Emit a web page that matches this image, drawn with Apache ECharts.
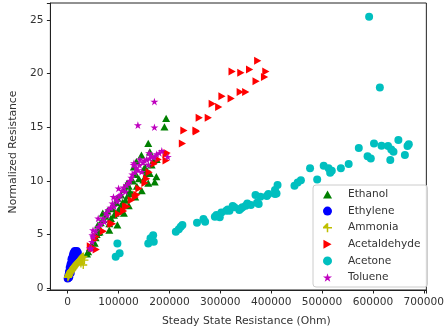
<!DOCTYPE html>
<html>
<head>
<meta charset="utf-8">
<script src="https://cdn.jsdelivr.net/npm/echarts@6/dist/echarts.min.js"></script>
<style>html,body{margin:0;padding:0;background:#fff}#c{width:447px;height:335px}</style>
</head>
<body>
<div id="c"></div>
<script>
// ---- data (Steady State Resistance [Ohm], Normalized Resistance) ----
const seriesNames = ["Ethanol", "Ethylene", "Ammonia", "Acetaldehyde", "Acetone", "Toluene"];
const xTicks = [0, 100000, 200000, 300000, 400000, 500000, 600000, 700000];
const yTicks = [0, 5, 10, 15, 20, 25];

const ethanol = [
  [38000,3.2],[40200,3.4],[44000,3.8],[47000,4.0],[50000,4.3],[53100,4.2],[55000,4.7],[57000,5.0],
  [59400,5.9],[60000,5.2],[62600,5.25],[62600,5.6],[65000,6.1],[69000,7.0],[70000,6.4],[74000,6.7],
  [78000,7.2],[81800,5.4],[81800,6.0],[85000,6.5],[88000,7.4],[91000,6.8],[94400,7.0],[95000,8.0],
  [97700,5.9],[97700,8.4],[100000,7.3],[104000,7.6],[105000,8.7],[108000,8.0],[110500,7.0],[112000,9.2],
  [113600,8.2],[116900,9.8],[118000,8.6],[120100,7.7],[122000,9.0],[126400,8.8],[128000,10.0],[130000,11.3],
  [132800,8.5],[134000,10.6],[136000,9.5],[140000,10.2],[145600,9.1],[148800,10.1],[150000,11.0],[151900,11.3],
  [155200,10.7],[158400,9.8],[158400,13.5],[161500,10.7],[161500,12.7],[165000,11.5],[171100,9.9],[174300,10.4],
  [168000,11.9],[175000,12.0],[190200,15.05],[193500,15.83],[120000,9.5],[135000,11.8],[145000,12.4]
];
const ethylene = [
  [0,0.9],[1000,0.95],[2000,1.05],[1500,1.2],[3000,1.3],[2500,1.5],[4000,1.6],[5000,1.75],[4000,1.9],
  [6000,2.0],[5500,2.2],[7000,2.3],[8000,2.5],[7500,2.7],[9000,2.8],[10000,3.0],[11000,3.2],[12500,3.35],
  [14000,3.45],[16000,3.4],[18000,3.45],[20000,3.3],[17000,3.1],[13000,2.95],[3000,1.0],[6000,1.4],
  [9000,1.9],[12000,2.2]
];
const ammonia = [
  [500,1.0],[1500,1.1],[2500,1.2],[3500,1.3],[4500,1.4],[5500,1.5],[6500,1.55],[7500,1.6],[9000,1.7],
  [10500,1.8],[12000,1.9],[13500,2.0],[15000,2.1],[17000,2.2],[19000,2.3],[21000,2.4],[23000,2.5],
  [25000,2.6],[27000,2.75],[29000,2.85],[31000,2.95],[30600,2.15],[33000,2.6],[26000,2.3]
];
const acetaldehyde = [
  [44600,3.9],[49800,3.7],[53100,4.5],[56100,3.6],[56100,4.8],[70000,5.3],[84900,6.0],[88100,6.0],
  [100000,6.9],[110000,7.2],[113600,7.6],[116900,7.6],[125000,8.2],[132800,8.5],[136000,8.7],[140000,9.3],
  [151900,9.8],[155200,10.2],[160000,10.8],[170000,11.6],[178000,12.0],[193500,11.9],[195400,12.6],[193500,12.5],
  [225500,13.5],[228500,14.7],[252300,14.7],[252900,14.6],[258600,15.9],[276400,15.9],[284100,17.2],
  [296900,16.9],[303300,17.9],[321300,17.7],[339100,18.3],[350000,18.3],[323200,20.2],[340400,20.1],
  [357600,20.4],[370300,19.3],[373500,21.2],[387000,19.7],[389500,20.2]
];
const acetone = [
  [97700,4.17],[94400,2.92],[102100,3.24],[158400,4.17],[168000,4.94],[169200,4.32],[162800,4.66],
  [212600,5.25],[222200,5.72],[218400,5.50],[225500,5.88],[254200,6.09],[266900,6.44],[270100,6.18],
  [289300,6.65],[292500,6.81],[298900,6.60],[302100,7.06],[311700,7.21],[314700,7.34],[318000,7.21],
  [324300,7.65],[327600,7.53],[337200,7.28],[340400,7.43],[343500,7.53],[350000,7.68],[353100,7.90],
  [360100,7.74],[369200,8.68],[372200,7.96],[375500,7.84],[378700,8.52],[391400,8.58],[394600,8.77],
  [407500,9.14],[407500,8.77],[410500,8.83],[412500,9.61],[445800,9.54],[452100,9.86],[458400,10.07],
  [476400,11.17],[490400,10.14],[503200,11.41],[512800,11.17],[515900,10.76],[519100,10.94],[537000,11.17],
  [552300,11.57],[572200,13.06],[589500,12.31],[595800,12.10],[602100,13.50],[616800,13.27],[629700,13.25],
  [636000,12.94],[640400,12.71],[634100,11.94],[650000,13.81],[662800,12.41],[668000,13.25],[670500,13.43],
  [592500,25.31],[613600,18.72]
];
const toluene = [
  [43500,3.7],[46500,3.7],[48000,4.3],[48500,4.94],[49800,5.4],[50000,4.8],[55000,5.3],[60000,5.7],[60000,6.5],
  [65000,6.0],[70000,6.5],[72200,6.2],[75300,7.0],[78000,6.8],[80000,7.3],[84000,7.5],[88000,7.9],[90000,8.5],
  [91400,7.6],[95000,8.3],[98000,8.1],[100000,9.3],[101000,8.6],[104000,8.7],[107000,9.1],[110000,9.4],
  [113600,9.0],[116000,9.6],[119000,9.8],[122000,10.0],[125000,10.3],[127000,10.6],[129700,11.5],[132000,10.8],
  [135000,11.2],[138000,11.0],[141000,11.5],[142000,12.0],[145600,10.85],[148000,11.7],[151000,11.9],[155000,12.0],
  [158400,11.5],[160000,12.6],[161000,12.1],[165000,12.3],[170000,12.2],[175000,12.5],[180000,12.6],[185000,12.8],
  [196700,12.25],[130300,11.66],[138000,15.2],[170500,15.0],[170500,17.4]
];

// ---- chart ----
const font = 'DejaVu Sans';
const txt = '#333';
const star = 'path://M0,-100L22.3,-30.7L95.1,-30.9L36.1,11.7L58.8,80.9L0,38L-58.8,80.9L-36.1,11.7L-95.1,-30.9L-22.3,-30.7Z';
const plus = 'path://M-1,-6H1V-1H6V1H1V6H-1V1H-6V-1Z';
const triUp = 'path://M0,-50L50,40L-50,40Z';
const triRight = 'path://M-40,-50L50,0L-40,50Z';
const defs = [
  {data: ethanol, color: '#008000', symbol: triUp, size: 8},
  {data: ethylene, color: '#0000ff', symbol: 'circle', size: 8},
  {data: ammonia, color: '#bfbf00', symbol: plus, size: 8},
  {data: acetaldehyde, color: '#ff0000', symbol: triRight, size: 8},
  {data: acetone, color: '#00bfbf', symbol: 'circle', size: 8},
  {data: toluene, color: '#bf00bf', symbol: star, size: 8}
];
const tickFmt = (ticks) => (v) => ticks.some(t => Math.abs(t - v) < 1e-6) ? String(v) : '';

const chart = echarts.init(document.getElementById('c'), null, {renderer: 'canvas'});
chart.setOption({
  animation: false,
  backgroundColor: '#fff',
  textStyle: {fontFamily: font},
  grid: {left: 46, right: 15, top: 3, bottom: 45, show: true, borderColor: '#222', borderWidth: 1, backgroundColor: 'transparent'},
  xAxis: {
    type: 'value', min: -34000, max: 705000, splitNumber: 7,
    name: 'Steady State Resistance (Ohm)', nameLocation: 'middle', nameGap: 26,
    nameTextStyle: {fontFamily: font, fontSize: 10.8, color: txt, padding: [0, 0, 0, 16]},
    axisLine: {onZero: false, lineStyle: {color: '#222', width: 1}},
    axisTick: {show: true, length: 3.5, lineStyle: {color: '#222'}},
    axisLabel: {fontFamily: font, fontSize: 10.6, color: txt, margin: 7, formatter: tickFmt(xTicks), showMinLabel: false, showMaxLabel: true},
    splitLine: {show: false}
  },
  yAxis: {
    type: 'value', min: -0.18, max: 26.6, splitNumber: 6,
    name: 'Normalized Resistance', nameLocation: 'middle', nameGap: 28, nameRotate: 90,
    nameTextStyle: {fontFamily: font, fontSize: 10.8, color: txt, padding: [0, 11, 0, 0]},
    axisLine: {onZero: false, lineStyle: {color: '#222', width: 1}},
    axisTick: {show: true, length: 3.5, lineStyle: {color: '#222'}},
    axisLabel: {fontFamily: font, fontSize: 10.6, color: txt, margin: 7, formatter: tickFmt(yTicks)},
    splitLine: {show: false}
  },
  legend: {
    orient: 'vertical', left: 313, top: 185,
    data: seriesNames.map((n, i) => ({name: n, icon: defs[i].symbol})),
    itemWidth: 9, itemHeight: 9, itemGap: 5.6,
    padding: [4, 7, 4, 10],
    borderColor: '#cccccc', borderWidth: 1, borderRadius: 3,
    backgroundColor: 'rgba(255,255,255,0.8)',
    textStyle: {fontFamily: font, fontSize: 10.6, color: txt, padding: [0, 0, 0, 11]}
  },
  series: defs.map((d, i) => ({
    name: seriesNames[i], type: 'scatter', data: d.data,
    symbol: d.symbol, symbolSize: d.size, symbolKeepAspect: true,
    itemStyle: {color: d.color, opacity: 1},
    emphasis: {disabled: true}
  }))
});
</script>
</body>
</html>
